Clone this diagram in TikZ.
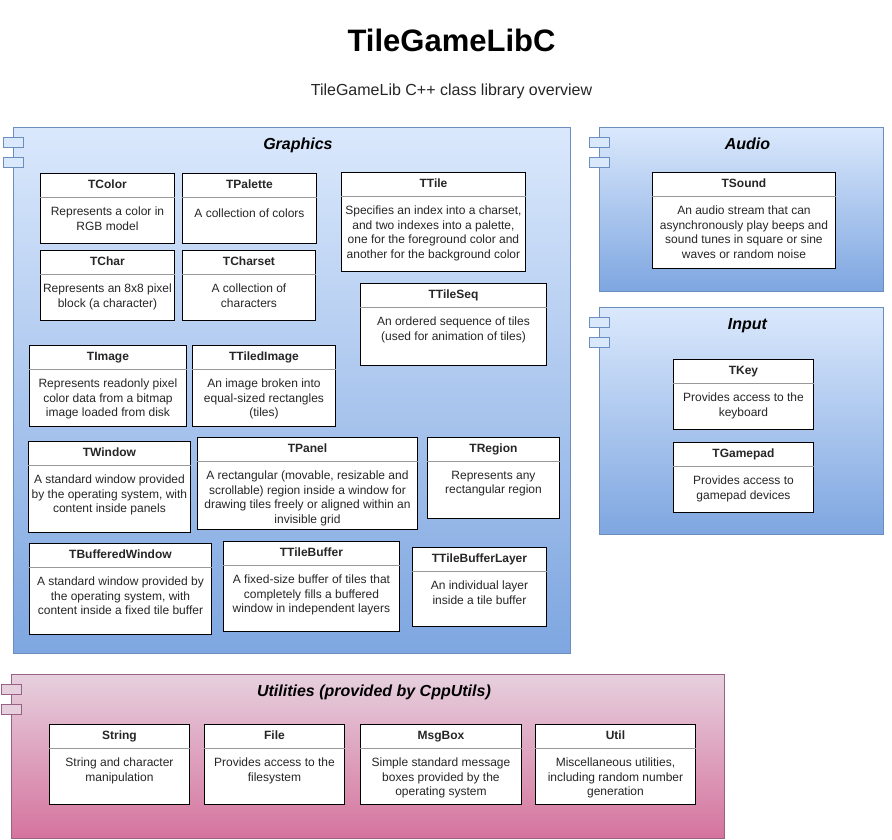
\documentclass[tikz,border=0pt]{standalone}
\usepackage{fontspec}
\setmainfont{Liberation Sans}
\usetikzlibrary{positioning}

\definecolor{compblue}{HTML}{DAE8FC}
\definecolor{compblueb}{HTML}{7EA6E0}
\definecolor{compedge}{HTML}{6C8EBF}
\definecolor{utilpink}{HTML}{E6D0DE}
\definecolor{utilpinkb}{HTML}{D5739D}
\definecolor{utiledge}{HTML}{996185}

\tikzset{
  comp/.style={draw=compedge, line width=0.9pt, top color=compblue, bottom color=compblueb,
    anchor=north west, inner sep=0pt},
  utilcomp/.style={comp, draw=utiledge, top color=utilpink, bottom color=utilpinkb},
  comptab/.style={draw=compedge, line width=0.9pt, fill=compblue},
  utiltab/.style={comptab, draw=utiledge, fill=utilpink},
  comptitle/.style={font=\bfseries\itshape\fontsize{16}{19}\selectfont, anchor=base, inner sep=0pt},
  cls/.style={draw=black, line width=0.9pt, fill=white, anchor=north west, inner sep=0pt},
  clshead/.style={font=\bfseries\fontsize{12}{14}\selectfont, text=black!85, inner sep=0pt,
    text height=9pt, text depth=2.5pt, minimum height=24pt},
  clsbody/.style={font=\fontsize{12}{14.7}\selectfont, text=black!85, align=center, inner sep=0pt,
    execute at begin node=\strut},
  divider/.style={draw=black!40, line width=0.9pt}
}

% name, x, y, width, height, title, text
\newcommand{\classbox}[7]{%
  \node[cls, minimum width=#4pt, minimum height=#5pt] (#1) at (#2,#3) {};
  \node[clshead, minimum width=#4pt, below=0pt of #1.north] (#1-h) {#6};
  \draw[divider] (#1-h.south west) -- (#1-h.south east);
  \node[clsbody, below=9.2pt of #1-h] (#1-b) {#7};
}

\begin{document}
\begin{tikzpicture}[x=1pt,y=-1pt]
\useasboundingbox[fill=white] (0,0) rectangle (892,839);

\node[font=\bfseries\fontsize{31}{36}\selectfont, anchor=base] (title) at (451.5,51.7) {TileGameLibC};
\node[font=\fontsize{16}{19}\selectfont, text=black!85, anchor=base] (subtitle) at (451.5,95) {TileGameLib C++ class library overview};

% components
\node[comp, minimum width=557pt, minimum height=526pt] (graphics) at (13,127) {};
\node[comp, minimum width=284pt, minimum height=164pt] (audio) at (599,127) {};
\node[comp, minimum width=284pt, minimum height=227pt] (input) at (599,307) {};
\node[utilcomp, minimum width=713pt, minimum height=164pt] (utilities) at (11,674) {};

\foreach \c in {graphics,audio,input} {
  \draw[comptab] ([xshift=-10pt,yshift=-10pt]\c.north west) rectangle ++(20,10);
  \draw[comptab] ([xshift=-10pt,yshift=-30pt]\c.north west) rectangle ++(20,10);
}
\draw[utiltab] ([xshift=-10pt,yshift=-10pt]utilities.north west) rectangle ++(20,10);
\draw[utiltab] ([xshift=-10pt,yshift=-30pt]utilities.north west) rectangle ++(20,10);

\node[comptitle] (graphics-t) at ([xshift=6pt,yshift=-22pt]graphics.north) {Graphics};
\node[comptitle] (audio-t) at ([xshift=6pt,yshift=-22pt]audio.north) {Audio};
\node[comptitle] (input-t) at ([xshift=6pt,yshift=-22pt]input.north) {Input};
\node[comptitle] (utilities-t) at ([xshift=6pt,yshift=-22.4pt]utilities.north) {Utilities (provided by CppUtils)};

% Graphics
\classbox{tcolor}{40}{173}{134}{70}{TColor}{Represents a color in\\RGB model}
\classbox{tpalette}{182}{173}{134}{70}{TPalette}{A collection of colors}
\classbox{tchar}{40}{250}{134}{70}{TChar}{Represents an 8x8 pixel\\block (a character)}
\classbox{tcharset}{182}{250}{133}{70}{TCharset}{A collection of\\characters}
\classbox{ttile}{341}{172}{184}{99}{TTile}{Specifies an index into a charset,\\and two indexes into a palette,\\one for the foreground color and\\another for the background color}
\classbox{ttileseq}{360}{283}{186}{82}{TTileSeq}{An ordered sequence of tiles\\(used for animation of tiles)}
\classbox{timage}{29}{345}{157}{81}{TImage}{Represents readonly pixel\\color data from a bitmap\\image loaded from disk}
\classbox{ttiledimage}{192}{345}{143}{81}{TTiledImage}{An image broken into\\equal-sized rectangles\\(tiles)}
\classbox{twindow}{28}{441}{162}{91}{TWindow}{A standard window provided\\by the operating system, with\\content inside panels}
\classbox{tpanel}{197}{437}{220}{92}{TPanel}{A rectangular (movable, resizable and\\scrollable) region inside a window for\\drawing tiles freely or aligned within an\\invisible grid}
\classbox{tregion}{427}{437}{132}{81}{TRegion}{Represents any\\rectangular region}
\classbox{tbufferedwindow}{29}{543}{182}{91}{TBufferedWindow}{A standard window provided by\\the operating system, with\\content inside a fixed tile buffer}
\classbox{ttilebuffer}{223}{541}{176}{90}{TTileBuffer}{A fixed-size buffer of tiles that\\completely fills a buffered\\window in independent layers}
\classbox{ttilebufferlayer}{412}{547}{134}{79}{TTileBufferLayer}{An individual layer\\inside a tile buffer}

% Audio and Input
\classbox{tsound}{652}{172}{183}{96}{TSound}{An audio stream that can\\asynchronously play beeps and\\sound tunes in square or sine\\waves or random noise}
\classbox{tkey}{673}{359}{140}{70}{TKey}{Provides access to the\\keyboard}
\classbox{tgamepad}{673}{442}{140}{70}{TGamepad}{Provides access to\\gamepad devices}

% Utilities
\classbox{string}{49}{724}{140}{80}{String}{String and character\\manipulation}
\classbox{file}{204}{724}{140}{80}{File}{Provides access to the\\filesystem}
\classbox{msgbox}{360}{724}{161}{80}{MsgBox}{Simple standard message\\boxes provided by the\\operating system}
\classbox{util}{535}{724}{160}{80}{Util}{Miscellaneous utilities,\\including random number\\generation}

\end{tikzpicture}
\end{document}
